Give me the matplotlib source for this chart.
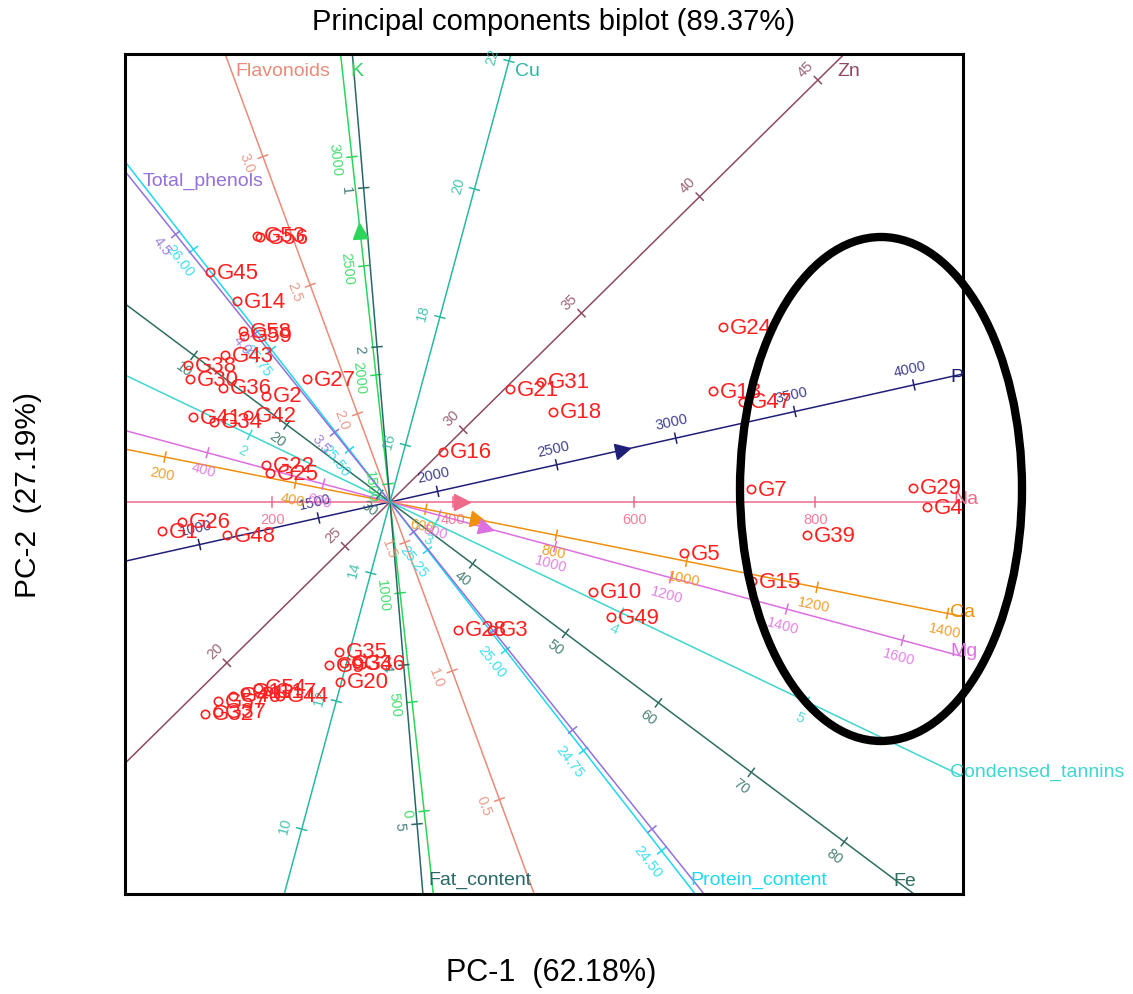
import numpy as np
import matplotlib
matplotlib.use("Agg")
import matplotlib.pyplot as plt
from matplotlib.patches import Ellipse
from matplotlib.markers import MarkerStyle
from matplotlib.transforms import Affine2D

plt.rcParams['font.family'] = ['Liberation Sans', 'DejaVu Sans']

# genotype scores (PC-1, PC-2)
geno = ["G53", "G56", "G45", "G14", "G58", "G59", "G43", "G38", "G30", "G36",
        "G2", "G27", "G41", "G34", "G42", "G22", "G25", "G1", "G26", "G48",
        "G16", "G21", "G31", "G18", "G24", "G13", "G47", "G7", "G29", "G4",
        "G39", "G5", "G15", "G10", "G49", "G28", "G3", "G35", "G9", "G33",
        "G46", "G20", "G32", "G37", "G57", "G40", "G11", "G54", "G17", "G44"]
pc1 = [-1.33, -1.30, -1.80, -1.53, -1.47, -1.46, -1.65, -2.02, -2.00, -1.67,
       -1.24, -0.83, -1.97, -1.76, -1.42, -1.24, -1.20, -2.28, -2.08, -1.63,
       0.53, 1.20, 1.51, 1.63, 3.33, 3.23, 3.53, 3.61, 5.23, 5.37,
       4.17, 2.94, 3.62, 2.03, 2.21, 0.68, 1.02, -0.51, -0.61, -0.46,
       -0.33, -0.50, -1.85, -1.72, -1.72, -1.57, -1.45, -1.32, -1.22, -1.10]
pc2 = [2.66, 2.65, 2.30, 2.01, 1.71, 1.66, 1.47, 1.37, 1.23, 1.14,
       1.06, 1.23, 0.85, 0.80, 0.87, 0.37, 0.29, -0.29, -0.20, -0.33,
       0.50, 1.13, 1.20, 0.90, 1.75, 1.11, 1.00, 0.13, 0.14, -0.05,
       -0.33, -0.51, -0.79, -0.90, -1.15, -1.28, -1.28, -1.50, -1.63, -1.61,
       -1.61, -1.80, -2.12, -2.10, -1.99, -1.94, -1.90, -1.86, -1.89, -1.94]

# calibrated biplot axes: direction (deg), value at origin, length per unit
var_names = ["Zn", "P", "Na", "Ca", "Mg", "Condensed_tannins", "Fe",
             "Protein_content", "Total_phenols", "Flavonoids", "K",
             "Fat_content", "Cu"]
var_angle = [44.6, 12.6, 0.0, -11.3, -15.1, -25.6, -36.8,
             127.9, 128.7, 110.2, 96.3, -85.2, 74.9]
var_mid = [26.9, 1800, 330, 545, 715, 2.755, 31.1,
           25.37, 3.15, 1.657, 1417.5, 2.975, 15.11]
var_step = [0.332, 0.00244, 0.00905, 0.00665, 0.006, 2.06, 0.116,
            5.08, 2.54, 2.74, 0.002194, 1.596, 0.663]
var_ticks = [[20, 25, 30, 35, 40, 45],
             [1000, 1500, 2000, 2500, 3000, 3500, 4000],
             [200, 400, 600, 800],
             [200, 400, 600, 800, 1000, 1200, 1400],
             [400, 600, 800, 1000, 1200, 1400, 1600],
             [2, 3, 4, 5],
             [10, 20, 30, 40, 50, 60, 70, 80],
             [24.50, 24.75, 25.00, 25.25, 25.50, 25.75, 26.00],
             [1.5, 2.0, 2.5, 3.0, 3.5, 4.0, 4.5],
             [0.5, 1.0, 1.5, 2.0, 2.5, 3.0],
             [0, 500, 1000, 1500, 2000, 2500, 3000],
             [1, 2, 4, 5],
             [10, 12, 14, 16, 18, 20, 22]]
var_fmt = ["{:.0f}", "{:.0f}", "{:.0f}", "{:.0f}", "{:.0f}", "{:.0f}", "{:.0f}",
           "{:.2f}", "{:.1f}", "{:.1f}", "{:.0f}", "{:.0f}", "{:.0f}"]
var_arrow = [None, 2780, 410, 680, 880, None, None, None, None, None, 2660, None, None]
var_colors = ["#8c4a63", "#1f1f78", "#ee6a8a", "#f0900c", "#dd6fe0", "#3dd6d0",
              "#2e6e60", "#1ed8ee", "#9370db", "#e98b78", "#2bd65a", "#2a6868",
              "#2bb8a2"]

# layout only: which end gets the name, side of tick labels, name offsets
name_end = [1, 1, 1, 1, 1, 1, 1, -1, 1, 1, 1, 1, 1]
tick_side = [1, 1, -1, -1, -1, -1, -1, 1, 1, 1, 1, -1, 1]
name_off = [(-0.07, -0.17), (-0.13, -0.03), (-0.10, 0.03), (-0.13, 0.05),
            (-0.13, 0.06), (-0.13, 0.05), (-0.21, 0.13), (-0.05, 0.15),
            (0.18, -0.09), (0.10, -0.17), (0.10, -0.17), (0.05, 0.15),
            (0.04, -0.17)]

xmin, xmax, ymin, ymax = -2.65, 5.73, -3.92, 4.48

fig = plt.figure(figsize=(11.33, 9.95), dpi=100)
ax = fig.add_axes([125 / 1133, 100 / 995, 838 / 1133, 840 / 995])
ax.set_xlim(xmin, xmax)
ax.set_ylim(ymin, ymax)
ax.set_xticks([])
ax.set_yticks([])
for sp in ax.spines.values():
    sp.set_linewidth(2.2)


def ray_len(c, s):
    ts = []
    if c > 1e-9:
        ts.append(xmax / c)
    if c < -1e-9:
        ts.append(xmin / c)
    if s > 1e-9:
        ts.append(ymax / s)
    if s < -1e-9:
        ts.append(ymin / s)
    return min(ts)


for i, name in enumerate(var_names):
    a = np.deg2rad(var_angle[i])
    c, s = np.cos(a), np.sin(a)
    col = var_colors[i]
    tp = ray_len(c, s)
    tn = ray_len(-c, -s)
    ax.plot([-tn * c, tp * c], [-tn * s, tp * s], color=col, lw=1.1, zorder=2)
    nx, ny = -s, c
    rot = var_angle[i]
    if rot > 90:
        rot -= 180
    if rot <= -90:
        rot += 180
    for v in var_ticks[i]:
        t = (v - var_mid[i]) * var_step[i]
        px, py = t * c, t * s
        if not (xmin < px < xmax and ymin < py < ymax):
            continue
        ax.plot([px - 0.05 * nx, px + 0.05 * nx], [py - 0.05 * ny, py + 0.05 * ny],
                color=col, lw=1.1, zorder=2)
        if name == "Total_phenols" and v < 3.5:
            continue
        d = 0.17 * tick_side[i]
        ax.text(px + d * nx, py + d * ny, var_fmt[i].format(v), color=col,
                fontsize=10.5, rotation=rot, rotation_mode='anchor',
                ha='center', va='center', alpha=0.85, zorder=3)
    if var_arrow[i] is not None:
        t = (var_arrow[i] - var_mid[i]) * var_step[i]
        m = MarkerStyle('>', transform=Affine2D().rotate_deg(var_angle[i]))
        ax.plot(t * c, t * s, marker=m, color=col, markersize=11, zorder=3)
    te = tp if name_end[i] > 0 else tn
    ex, ey = name_end[i] * te * c, name_end[i] * te * s
    ax.text(ex + name_off[i][0], ey + name_off[i][1], name, color=col,
            fontsize=14, ha='left', va='center', clip_on=False, zorder=4)

ax.plot(pc1, pc2, 'o', mfc='none', mec='#ff2020', mew=1.2, markersize=6, zorder=5)
for g, x, y in zip(geno, pc1, pc2):
    ax.text(x + 0.07, y, g, color='#ff2020', fontsize=16, ha='left', va='center',
            zorder=5)

ax.add_patch(Ellipse((4.91, 0.13), 2.82, 5.04, fill=False, edgecolor='black',
                     lw=6, clip_on=False, zorder=6))

fig.text(554 / 1133, 1 - 22 / 995, "Principal components biplot (89.37%)",
         fontsize=21, ha='center', va='center')
fig.text(551 / 1133, 1 - 973 / 995, "PC-1  (62.18%)", fontsize=22,
         ha='center', va='center')
fig.text(28 / 1133, 1 - 495 / 995, "PC-2  (27.19%)", fontsize=21.5,
         ha='center', va='center', rotation=90)

fig.savefig("out.png", dpi=100)
